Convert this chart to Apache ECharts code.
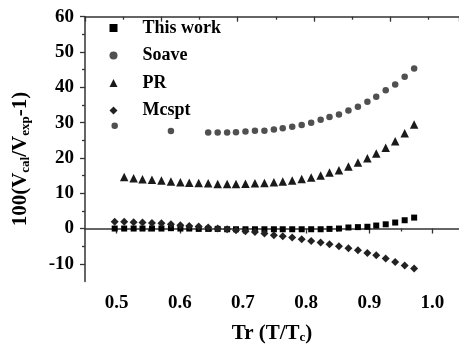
<!DOCTYPE html>
<html><head><meta charset="utf-8">
<script src="https://cdn.jsdelivr.net/npm/echarts@6/dist/echarts.min.js"></script>
<style>html,body{margin:0;padding:0;background:#fff}#c{width:459px;height:353px}</style>
</head><body><div id="c"></div>
<script>
const tr = [0.497,0.512,0.527,0.541,0.556,0.571,0.586,0.601,0.615,0.630,0.645,0.660,0.675,0.689,0.704,0.719,0.734,0.749,0.763,0.778,0.793,0.808,0.823,0.837,0.852,0.867,0.882,0.897,0.911,0.926,0.941,0.956,0.971];
const thisWork = [0,0,0,0,0,0,0.1,0,0,-0.1,-0.1,-0.1,-0.2,-0.2,-0.2,-0.2,-0.2,-0.2,-0.2,-0.2,-0.2,-0.2,-0.2,-0.1,0.0,0.3,0.4,0.5,0.85,1.2,1.7,2.35,3.1];
const soave = [29.1,null,null,null,null,null,27.6,null,null,null,27.2,27.2,27.2,27.3,27.5,27.7,27.7,28.05,28.4,28.8,29.3,29.95,30.8,31.6,32.3,33.4,34.5,35.9,37.3,39.2,40.8,43.0,45.3];
const pr = [null,14.6,14.25,13.97,13.8,13.6,13.35,13.1,13.0,12.9,12.8,12.6,12.6,12.6,12.7,12.8,12.9,13.1,13.3,13.6,14.0,14.45,15.0,15.9,16.5,17.55,18.7,19.9,21.25,22.9,24.7,27.0,29.5];
const mcspt = [1.9,1.9,1.8,1.7,1.6,1.5,1.2,0.93,0.74,0.57,0.28,0.0,-0.2,-0.5,-0.77,-0.97,-1.4,-1.9,-2.2,-2.55,-3.0,-3.5,-3.95,-4.45,-5.0,-5.6,-6.15,-6.9,-7.55,-8.5,-9.45,-10.5,-11.3];
const xTicks = [0.5,0.6,0.7,0.8,0.9,1.0];
const xMinor = [0.55,0.65,0.75,0.85,0.95];
const yTicks = [-10,0,10,20,30,40,50,60];
const yMinor = [-5,5,15,25,35,45,55];
const names = ['This work','Soave','PR','Mcspt'];

const font = 'Liberation Serif';
const axColor = '#333';
function pairs(arr){ return tr.map((x,i)=>arr[i]==null?null:[x,arr[i]]).filter(p=>p); }
const nameRich = {
  a:{fontFamily:font, fontWeight:'bold', fontSize:21, color:'#000', lineHeight:22},
  s:{fontFamily:font, fontWeight:'bold', fontSize:13, color:'#000', lineHeight:22, verticalAlign:'bottom', padding:[9,0,0,0]}
};
const chart = echarts.init(document.getElementById('c'), null, {renderer:'canvas'});
chart.setOption({
  animation:false,
  backgroundColor:'#fff',
  grid:{left:85, top:16.7, right:0, bottom:71.5, containLabel:false},
  legend:{
    orient:'vertical', left:104.5, top:14, itemWidth:8, itemHeight:8, itemGap:9.5,
    data:names,
    textStyle:{fontFamily:font, fontWeight:'bold', fontSize:18, color:'#000', lineHeight:18, padding:[0,0,0,20]}
  },
  xAxis:[
    {type:'value', position:'bottom', min:0.45, max:1.042,
     axisLine:{show:true, lineStyle:{color:axColor, width:1.5}},
     axisTick:{show:true, length:5, customValues:xTicks, lineStyle:{color:axColor, width:1.3}},
     axisLabel:{customValues:xTicks, margin:12, formatter:v=>v.toFixed(1), fontFamily:font, fontWeight:'bold', fontSize:19, color:'#000'},
     splitLine:{show:false},
     name:'{a|Tr (T/T}{s|c}{a|)}', nameLocation:'middle', nameGap:41,
     nameTextStyle:{rich:nameRich}
    },
    {type:'value', position:'bottom', min:0.45, max:1.042,
     axisLine:{show:false}, axisLabel:{show:false}, splitLine:{show:false},
     axisTick:{show:true, length:3, customValues:xMinor, lineStyle:{color:axColor, width:1.3}}
    },
    {type:'value', position:'top', min:0, max:4.9, interval:1,
     axisLine:{show:true, lineStyle:{color:axColor, width:1.5}},
     axisTick:{show:true, inside:true, length:5, lineStyle:{color:axColor, width:1.3}},
     minorTick:{show:true, splitNumber:2, length:3, lineStyle:{color:axColor, width:1.3}},
     axisLabel:{show:false}, splitLine:{show:false}, minorSplitLine:{show:false}
    }
  ],
  yAxis:[
    {type:'value', position:'left', min:-15, max:60,
     axisLine:{show:true, lineStyle:{color:axColor, width:1.5}},
     axisTick:{show:true, length:5, customValues:yTicks, lineStyle:{color:axColor, width:1.3}},
     axisLabel:{customValues:yTicks, margin:11, fontFamily:font, fontWeight:'bold', fontSize:19, color:'#000'},
     splitLine:{show:false},
     name:'{a|100(V}{s|cal}{a|/V}{s|exp}{a|-1)}', nameLocation:'middle', nameGap:53,
     nameTextStyle:{rich:nameRich, padding:[0,20,0,0]}
    },
    {type:'value', position:'left', min:-15, max:60,
     axisLine:{show:false}, axisLabel:{show:false}, splitLine:{show:false},
     axisTick:{show:true, length:3, customValues:yMinor, lineStyle:{color:axColor, width:1.3}}
    }
  ],
  series:[
    {name:names[0], type:'scatter', symbol:'rect', symbolSize:6, itemStyle:{color:'#000', opacity:1}, data:pairs(thisWork), z:3},
    {name:names[1], type:'scatter', symbol:'circle', symbolSize:6.5, itemStyle:{color:'#505050', opacity:1}, data:pairs(soave), z:3},
    {name:names[2], type:'scatter', symbol:'triangle', symbolSize:8.5, itemStyle:{color:'#1a1a1a', opacity:1}, data:pairs(pr), z:3},
    {name:names[3], type:'scatter', symbol:'diamond', symbolSize:8, itemStyle:{color:'#222', opacity:1}, data:pairs(mcspt), z:3}
  ]
});
</script></body></html>
